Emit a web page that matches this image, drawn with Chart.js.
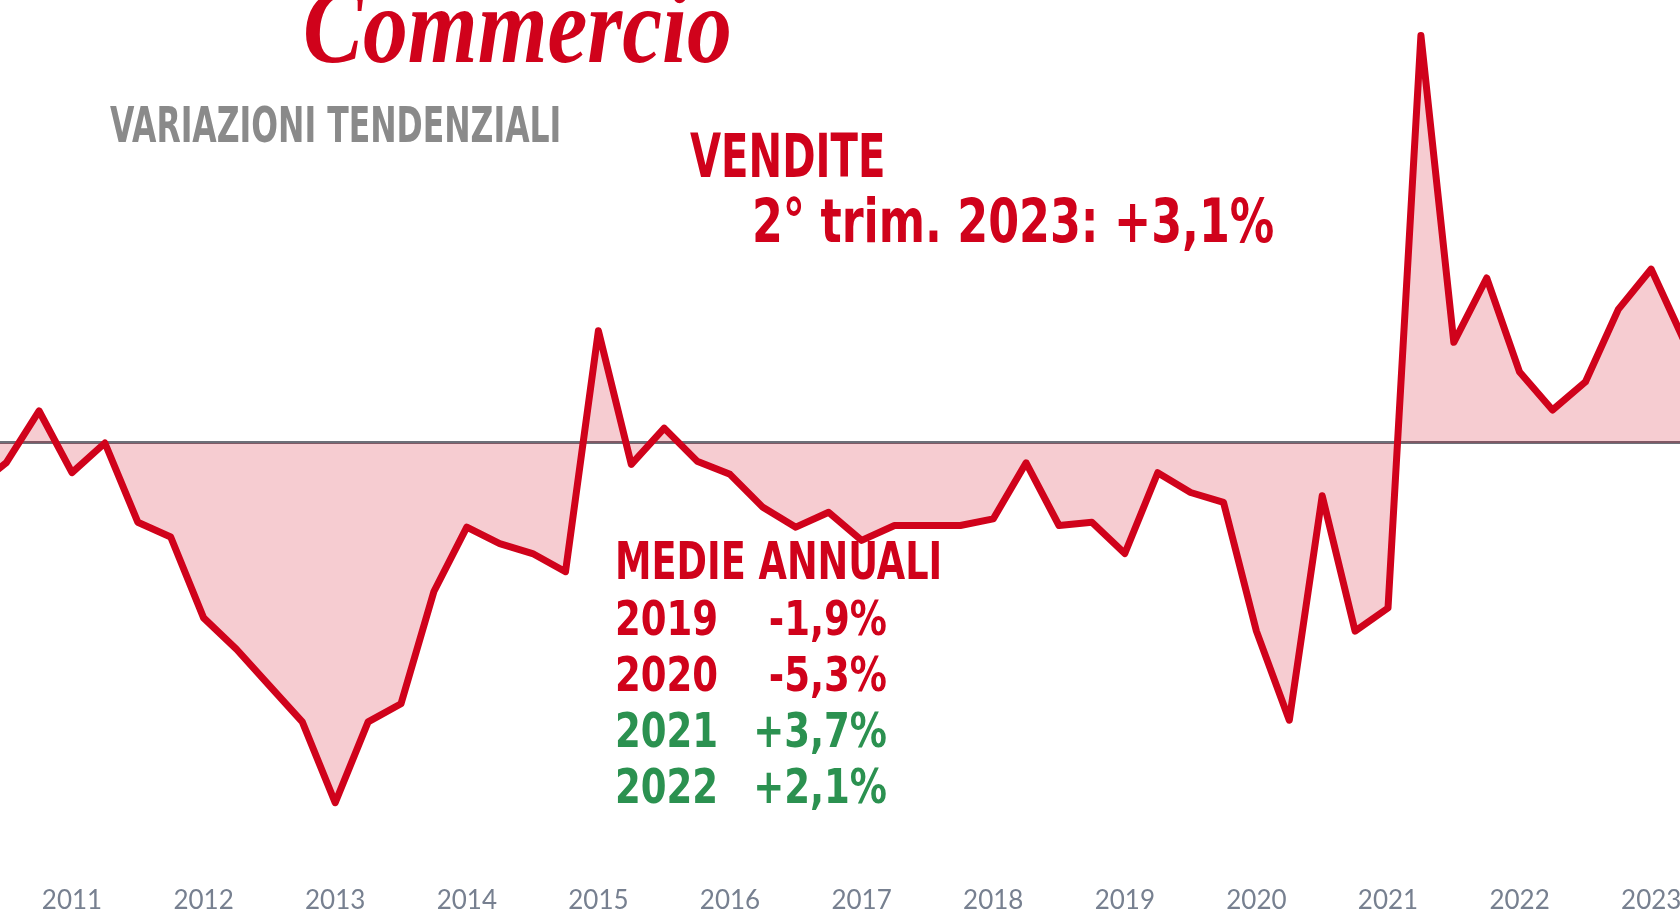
<!DOCTYPE html>
<html lang="it">
<head>
<meta charset="utf-8">
<title>Commercio - variazioni tendenziali</title>
<script src="https://cdn.jsdelivr.net/npm/chart.js@4.4.0/dist/chart.umd.min.js"></script>
<style>
  html, body { margin: 0; padding: 0; background: #fff; overflow: hidden; }
  #wrap { position: relative; width: 1680px; height: 919px; }
  #grafico { position: absolute; left: 0; top: 0; }
  .txt {
    position: absolute; white-space: nowrap; line-height: 1; transform-origin: 0 0;
    font-family: "DejaVu Sans Condensed", "DejaVu Sans", sans-serif;
    font-weight: bold; font-stretch: condensed;
  }
  .rosso { color: #d0021b; }
  .verde { color: #2b9150; }
  #titolo { left: 303px; top: -28px; font-family: "Liberation Serif", serif; font-style: italic; font-size: 108px; font-stretch: normal; }
  #sottotitolo { left: 110px; top: 101px; font-size: 49px; color: #8a8a8a; }
  #vendite { left: 690px; top: 126px; font-size: 60px; }
  #trim { left: 752px; top: 191px; font-size: 60px; }
  #medie { left: 615px; top: 535px; font-size: 52px; }
  .riga { left: 615px; font-size: 48px; display: flex; justify-content: space-between; }
</style>
</head>
<body>
<div id="wrap">
  <canvas id="grafico" width="1680" height="919"></canvas>
  <div id="titolo" class="txt rosso">Commercio</div>
  <div id="sottotitolo" class="txt">VARIAZIONI TENDENZIALI</div>
  <div id="vendite" class="txt rosso">VENDITE</div>
  <div id="trim" class="txt rosso">2° trim. 2023: +3,1%</div>
  <div id="medie" class="txt rosso">MEDIE ANNUALI</div>
</div>
<script>
// trimestri dal 2° trim. 2010 al 2° trim. 2023
const trimestri = [
  '2010 T2', '2010 T3', '2010 T4',
  '2011 T1', '2011 T2', '2011 T3', '2011 T4',
  '2012 T1', '2012 T2', '2012 T3', '2012 T4',
  '2013 T1', '2013 T2', '2013 T3', '2013 T4',
  '2014 T1', '2014 T2', '2014 T3', '2014 T4',
  '2015 T1', '2015 T2', '2015 T3', '2015 T4',
  '2016 T1', '2016 T2', '2016 T3', '2016 T4',
  '2017 T1', '2017 T2', '2017 T3', '2017 T4',
  '2018 T1', '2018 T2', '2018 T3', '2018 T4',
  '2019 T1', '2019 T2', '2019 T3', '2019 T4',
  '2020 T1', '2020 T2', '2020 T3', '2020 T4',
  '2021 T1', '2021 T2', '2021 T3', '2021 T4',
  '2022 T1', '2022 T2', '2022 T3', '2022 T4',
  '2023 T1', '2023 T2'
];

// variazioni tendenziali delle vendite (%)
const vendite = [
  -1.4, -0.6, 0.97,
  -0.9, 0.0, -2.4, -2.85,
  -5.3, -6.25, -7.35, -8.45,
  -10.9, -8.45, -7.9, -4.5,
  -2.55, -3.05, -3.35, -3.9,
  3.4, -0.65, 0.45, -0.55,
  -0.95, -1.95, -2.55, -2.1,
  -2.95, -2.5, -2.5, -2.5,
  -2.3, -0.6, -2.5, -2.4,
  -3.35, -0.9, -1.5, -1.8,
  -5.7, -8.4, -1.6, -5.7,
  -5.0, 12.35, 3.05, 5.0,
  2.15, 1.0, 1.85, 4.05,
  5.27, 3.1
];

const anni = ['2011', '2012', '2013', '2014', '2015', '2016', '2017',
              '2018', '2019', '2020', '2021', '2022', '2023'];
const primoTrim = trimestri.indexOf('2011 T1');

// medie annuali
const anniMedie = ['2019', '2020', '2021', '2022'];
const valoriMedie = ['-1,9%', '-5,3%', '+3,7%', '+2,1%'];
const coloriMedie = ['rosso', 'rosso', 'verde', 'verde'];

const ctx = document.getElementById('grafico').getContext('2d');
new Chart(ctx, {
  type: 'line',
  data: {
    datasets: [{
      label: 'Vendite',
      data: vendite.map((v, i) => ({ x: i, y: v })),
      borderColor: '#d0021b',
      borderWidth: 7,
      borderJoinStyle: 'round',
      backgroundColor: 'rgba(208, 2, 27, 0.2)',
      fill: 'origin',
      pointRadius: 0,
      tension: 0
    }]
  },
  options: {
    responsive: false,
    animation: false,
    layout: { padding: 0 },
    plugins: { legend: { display: false }, tooltip: { enabled: false } },
    scales: {
      x: {
        type: 'linear',
        min: 0.8116,
        max: 51.875,
        grid: { display: false, drawTicks: false },
        border: { display: false },
        afterBuildTicks: axis => {
          axis.ticks = anni.map((a, k) => ({ value: primoTrim + 4 * k }));
        },
        afterFit: axis => {
          axis.height = 39;
          axis.paddingLeft = 0;
          axis.paddingRight = 0;
        },
        ticks: {
          autoSkip: false,
          maxRotation: 0,
          padding: 5,
          color: '#778090',
          font: { family: 'Lato', size: 26 },
          callback: v => anni[(v - primoTrim) / 4]
        }
      },
      y: {
        min: -13.2424,
        max: 13.4242,
        afterBuildTicks: axis => { axis.ticks = [{ value: 0 }]; },
        afterFit: axis => { axis.width = 0; },
        ticks: { display: false },
        grid: { color: '#6c7079', lineWidth: 3, drawTicks: false },
        border: { display: false }
      }
    }
  }
});

// righe delle medie annuali
const wrap = document.getElementById('wrap');
anniMedie.forEach((anno, k) => {
  const riga = document.createElement('div');
  riga.className = 'txt riga ' + coloriMedie[k];
  riga.style.top = (594 + 56 * k) + 'px';
  riga.innerHTML = '<span class="anno">' + anno + '</span><span>' + valoriMedie[k] + '</span>';
  wrap.appendChild(riga);
});

// adatta la larghezza dei testi a quella del grafico originale
function adatta(id, larghezza) {
  const el = document.getElementById(id);
  el.style.transform = 'scaleX(' + (larghezza / el.offsetWidth) + ')';
}
adatta('titolo', 429);
adatta('sottotitolo', 451);
adatta('vendite', 195);
adatta('trim', 522);
adatta('medie', 327);
document.querySelectorAll('.riga').forEach(riga => {
  const s = 103 / riga.querySelector('.anno').offsetWidth;
  riga.style.width = (272 / s) + 'px';
  riga.style.transform = 'scaleX(' + s + ')';
});
</script>
</body>
</html>
